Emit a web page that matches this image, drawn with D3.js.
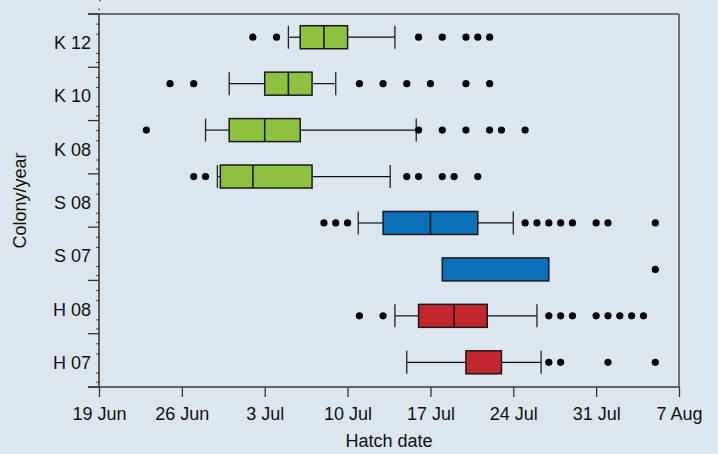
<!DOCTYPE html>
<html>
<head>
<meta charset="utf-8">
<script src="https://cdn.jsdelivr.net/npm/d3@7"></script>
<style>
  html, body { margin: 0; padding: 0; background: #dbe6ee; }
  svg { display: block; }
  text { font-family: "Liberation Sans", Arial, sans-serif; fill: #111; }
</style>
</head>
<body>
<svg id="chart" width="718" height="454"></svg>
<script>
// ---- Data (days after 19 Jun) ----
const xTickDays = [0, 7, 14, 21, 28, 35, 42, 49];
const xTickLabels = ["19 Jun", "26 Jun", "3 Jul", "10 Jul", "17 Jul", "24 Jul", "31 Jul", "7 Aug"];
const yLabels = ["K 12", "K 10", "K 08", "S 08", "S 07", "H 08", "H 07"];

// 8 boxes are drawn (one more than the labelled rows)
const boxRows   = ["K 12", "K 10", "K 08", "K (4th)", "S 08", "S 07", "H 08", "H 07"];
const boxColony = ["K", "K", "K", "K", "S", "S", "H", "H"];
const whiskerLow  = [16, 11, 9, 10, 21.9, null, 25, 26];
const q1          = [17, 14, 11, 10.25, 24, 29, 27, 31];
const median      = [19, 16, 14, 13, 28, null, 30, null];
const q3          = [21, 18, 17, 18, 32, 38, 32.8, 34];
const whiskerHigh = [25, 20, 26.8, 24.6, 35, null, 37, 37.35];
const outliers = [
  [13, 15, 27, 29, 31, 32, 33],
  [6, 8, 22, 24, 26, 28, 31, 33],
  [4, 27, 29, 31, 33, 34, 36],
  [8, 9, 26, 27, 29, 30, 32],
  [19, 20, 21, 36, 37, 38, 39, 40, 42, 43, 47],
  [47],
  [22, 24, 38, 39, 40, 42, 43, 44, 45, 46],
  [38, 39, 43, 47]
];
const colonyColor = { K: "#8dc13f", S: "#0c70b8", H: "#c1272d" };

// ---- Layout ----
const svg = d3.select("#chart");
const pLeft = 99, pRight = 679, pTop = 14, pBottom = 387;
const fs = 18;

svg.append("rect").attr("width", 718).attr("height", 454).attr("fill", "#dbe6ee");

const x = d3.scaleLinear().domain([0, 49]).range([pLeft, pRight]);
const yLab = d3.scaleBand().domain(yLabels).range([pTop, pBottom]);
const yBox = d3.scaleBand().domain(boxRows).range([pTop, 385.5]);

// frame (top & right)
svg.append("line").attr("x1", 88).attr("x2", pRight).attr("y1", pTop).attr("y2", pTop)
  .attr("stroke", "#4a4a4a").attr("stroke-width", 1.5);
svg.append("line").attr("x1", pRight).attr("x2", pRight).attr("y1", pTop).attr("y2", pBottom)
  .attr("stroke", "#4a4a4a").attr("stroke-width", 1.5);

// x axis
const xAxis = d3.axisBottom(x).tickValues(xTickDays)
  .tickFormat((d, i) => xTickLabels[i]).tickSize(10).tickSizeOuter(0).tickPadding(6);
const gx = svg.append("g").attr("transform", `translate(0,${pBottom})`).call(xAxis);
gx.select(".domain").remove();
gx.selectAll(".tick line").attr("stroke", "#333").attr("stroke-width", 1.3);
gx.selectAll(".tick text").attr("font-size", fs).attr("fill", "#111")
  .attr("y", 33).attr("dy", 0).style("font-family", "'Liberation Sans', Arial, sans-serif");
svg.append("line").attr("x1", 88).attr("x2", pRight).attr("y1", pBottom).attr("y2", pBottom)
  .attr("stroke", "#3a3a3a").attr("stroke-width", 1.5);

// y axis line + ticks
svg.append("line").attr("x1", pLeft).attr("x2", pLeft).attr("y1", pTop).attr("y2", pBottom)
  .attr("stroke", "#333").attr("stroke-width", 1.5);
const bounds = yLabels.map(d => yLab(d)).concat([pBottom]);
svg.append("g").selectAll("line").data(bounds).join("line")
  .attr("x1", 88).attr("x2", pLeft).attr("y1", d => d).attr("y2", d => d)
  .attr("stroke", "#333").attr("stroke-width", 1.3);
const minorFr = [0.19, 0.38, 0.74, 0.91];
const minor = [];
yLabels.forEach(d => minorFr.forEach(f => minor.push(yLab(d) + f * yLab.bandwidth())));
svg.append("g").selectAll("line").data(minor).join("line")
  .attr("x1", pLeft - 3).attr("x2", pLeft + 1).attr("y1", d => d).attr("y2", d => d)
  .attr("stroke", "#444").attr("stroke-width", 1);
svg.append("rect").attr("x", 98.5).attr("y", 8.5).attr("width", 1.5).attr("height", 1.5).attr("fill", "#555");
svg.append("rect").attr("x", 99).attr("y", 0).attr("width", 1.5).attr("height", 1.2).attr("fill", "#555");

svg.append("g").selectAll("text").data(yLabels).join("text")
  .attr("x", 91).attr("y", d => yLab(d) + yLab.bandwidth() / 2 + 8.5)
  .attr("text-anchor", "end").attr("font-size", fs).text(d => d);

// axis titles
svg.append("text").attr("x", (pLeft + pRight) / 2).attr("y", 446.5)
  .attr("text-anchor", "middle").attr("font-size", fs).text("Hatch date");
svg.append("text").attr("transform", `translate(26,${(pTop + pBottom) / 2}) rotate(-90)`)
  .attr("text-anchor", "middle").attr("font-size", fs).text("Colony/year");

// ---- Boxes ----
const boxH = 23;
const rows = boxRows.map((k, i) => ({
  k, i, c: colonyColor[boxColony[i]], lo: whiskerLow[i], q1: q1[i], med: median[i],
  q3: q3[i], hi: whiskerHigh[i], out: outliers[i]
}));
const g = svg.append("g");
rows.forEach(r => {
  const cy = yBox(r.k) + yBox.bandwidth() / 2;
  const row = g.append("g");
  if (r.lo != null) {
    row.append("line").attr("x1", x(r.lo)).attr("x2", x(r.q1)).attr("y1", cy).attr("y2", cy)
      .attr("stroke", "#111").attr("stroke-width", 1.2);
    row.append("line").attr("x1", x(r.lo)).attr("x2", x(r.lo)).attr("y1", cy - boxH / 2).attr("y2", cy + boxH / 2)
      .attr("stroke", "#222").attr("stroke-width", 1.3);
  }
  if (r.hi != null) {
    row.append("line").attr("x1", x(r.q3)).attr("x2", x(r.hi)).attr("y1", cy).attr("y2", cy)
      .attr("stroke", "#111").attr("stroke-width", 1.2);
    row.append("line").attr("x1", x(r.hi)).attr("x2", x(r.hi)).attr("y1", cy - boxH / 2).attr("y2", cy + boxH / 2)
      .attr("stroke", "#222").attr("stroke-width", 1.3);
  }
  row.append("rect").attr("x", x(r.q1)).attr("y", cy - boxH / 2)
    .attr("width", x(r.q3) - x(r.q1)).attr("height", boxH)
    .attr("fill", r.c).attr("stroke", "#1a1a1a").attr("stroke-width", 1.5);
  if (r.med != null) {
    row.append("line").attr("x1", x(r.med)).attr("x2", x(r.med)).attr("y1", cy - boxH / 2).attr("y2", cy + boxH / 2)
      .attr("stroke", "#1a1a1a").attr("stroke-width", 1.6);
  }
  row.selectAll("circle").data(r.out).join("circle")
    .attr("cx", d => x(d)).attr("cy", cy).attr("r", 3.6).attr("fill", "#000");
});
</script>
</body>
</html>
